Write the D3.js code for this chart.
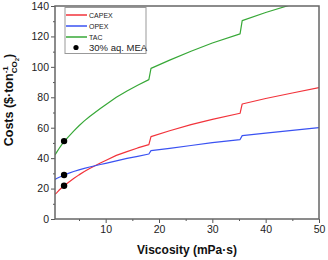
<!DOCTYPE html>
<html><head><meta charset="utf-8">
<script src="https://cdn.jsdelivr.net/npm/d3@7"></script>
<style>body{margin:0;background:#fff}svg{display:block}text{font-family:"Liberation Sans",Arial,sans-serif}</style>
</head><body><svg id="c" width="328" height="260"></svg>
<script>
const viscosity = [0.5,0.8,1.2,1.7,2.2,3,4,5,6,7,8,9,10,12,14,16,18.1,18.5,22,26,30,35.2,35.6,40,45,50];
const capex = [16.2,17.2,18.7,20.4,21.9,24,26.6,29,31.2,33.2,35,36.8,38.5,41.8,44.3,46.7,48.9,54.1,58,62,65.5,69.5,75.6,79.2,82.8,86.3];
const opex  = [26,26.6,27.3,28.1,28.9,30,31.2,32.3,33.3,34.2,35,35.8,36.6,38.2,39.8,41.2,42.7,44.9,46.4,48.3,50.2,52.2,54.8,56.5,58.3,60];
const tac   = [42.2,43.8,46,48.5,50.8,54,57.8,61.3,64.5,67.4,70,72.6,75.1,80,84.1,87.9,91.6,99,104.4,110.3,115.7,121.7,130.4,135.7,141.1,146.3];
const meaX = [2.2,2.2,2.2];
const meaY = [51.2,28.9,21.9];
const seriesNames = ["CAPEX","OPEX","TAC"];
const seriesColors = ["#f2333b","#3a52f2","#37a837"];
const xTicks = [10,20,30,40,50];
const yTicks = [0,20,40,60,80,100,120,140];

const svg = d3.select("#c");
const L=55,R=319,T=6,B=219;
const x = d3.scaleLinear().domain([0.5,50]).range([L,R]);
const y = d3.scaleLinear().domain([0,140]).range([B,T]);

svg.append("clipPath").attr("id","clip").append("rect").attr("x",L).attr("y",T).attr("width",R-L).attr("height",B-T);

const series = [capex,opex,tac];
const line = d3.line().x((d,i)=>x(viscosity[i])).y(d=>y(d));
series.forEach((s,k)=>{
  svg.append("path").datum(s).attr("d",line).attr("fill","none")
    .attr("stroke",seriesColors[k]).attr("stroke-width",1.2).attr("stroke-linejoin","round").attr("clip-path","url(#clip)");
});
svg.selectAll("circle.mea").data(meaY).enter().append("circle").attr("class","mea")
  .attr("cx",(d,i)=>x(meaX[i])).attr("cy",d=>y(d)).attr("r",3.2).attr("fill","#000");

// axes
const xAxis = svg.append("g").attr("transform",`translate(0,${B})`)
  .call(d3.axisBottom(x).tickValues(xTicks).tickSize(4).tickPadding(3).tickFormat(d3.format("d")));
const xMinor = svg.append("g").attr("transform",`translate(0,${B})`)
  .call(d3.axisBottom(x).tickValues([5,15,25,35,45]).tickSize(2).tickFormat(""));
const yAxis = svg.append("g").attr("transform",`translate(${L},0)`)
  .call(d3.axisLeft(y).tickValues(yTicks).tickSize(4).tickPadding(2).tickFormat(d3.format("d")));
const yMinor = svg.append("g").attr("transform",`translate(${L},0)`)
  .call(d3.axisLeft(y).tickValues([10,30,50,70,90,110,130]).tickSize(2).tickFormat(""));
[xAxis,xMinor,yAxis,yMinor].forEach(g=>{
  g.select(".domain").remove();
  g.selectAll("line").attr("stroke","#555").attr("stroke-width",1);
  g.selectAll("text").attr("font-size",10.5).attr("fill","#222");
});
// frame
svg.append("rect").attr("x",L).attr("y",T).attr("width",R-L).attr("height",B-T)
  .attr("fill","none").attr("stroke","#666").attr("stroke-width",1.5);

// axis titles
svg.append("text").attr("x",(L+R)/2).attr("y",254).attr("text-anchor","middle")
  .attr("font-size",12).attr("font-weight","bold").attr("fill","#111").text("Viscosity (mPa·s)");
const yl = svg.append("text").attr("transform","translate(13,100) rotate(-90)")
  .attr("text-anchor","middle").attr("font-size",12.5).attr("font-weight","bold").attr("fill","#111");
yl.append("tspan").text("Costs ($·ton");
yl.append("tspan").attr("font-size",8).attr("dy",-5).text("-1");
yl.append("tspan").attr("font-size",8).attr("dx",-7).attr("dy",9).text("CO");
yl.append("tspan").attr("font-size",6).attr("dy",2).text("2");
yl.append("tspan").attr("dy",-6).text(")");

// legend
const lg = svg.append("g");
lg.append("rect").attr("x",65).attr("y",7.5).attr("width",81).attr("height",46)
  .attr("fill","#fff").attr("stroke","#999").attr("stroke-width",1);
const ly = [15,26,37];
seriesNames.forEach((n,k)=>{
  lg.append("line").attr("x1",66).attr("x2",87).attr("y1",ly[k]).attr("y2",ly[k])
    .attr("stroke",seriesColors[k]).attr("stroke-width",2).attr("stroke-opacity",0.75);
  lg.append("text").attr("x",89).attr("y",ly[k]+2.5).attr("font-size",7).attr("fill","#222").text(n);
});
lg.append("circle").attr("cx",76).attr("cy",47.5).attr("r",2.6).attr("fill","#000");
lg.append("text").attr("x",89).attr("y",51).attr("font-size",9.5).attr("fill","#222").text("30% aq. MEA");
</script></body></html>
